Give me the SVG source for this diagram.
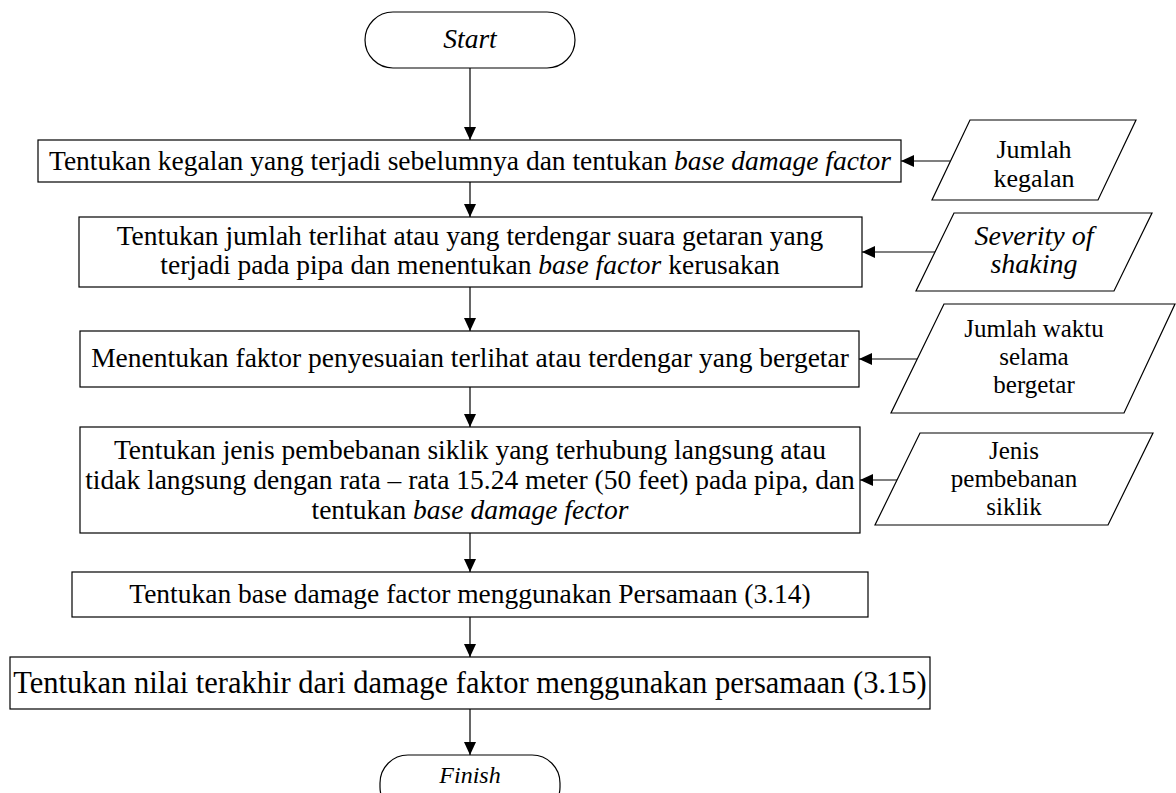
<svg xmlns="http://www.w3.org/2000/svg" width="1176" height="793" viewBox="0 0 1176 793">
<defs>
<style>
.s{fill:#fff;stroke:#000;stroke-width:1.2}
.t{font-family:"Liberation Serif","Times New Roman",serif;font-size:27.5px;fill:#000;text-anchor:middle}
.p{font-family:"Liberation Serif","Times New Roman",serif;font-size:25px;fill:#000;text-anchor:middle}
.i{font-style:italic}
.c{fill:none;stroke:#000;stroke-width:1.2}
</style>
<marker id="ah" markerUnits="userSpaceOnUse" markerWidth="14" markerHeight="12" refX="13" refY="6" orient="auto">
<path d="M0,0 L13,6 L0,12 z" fill="#000"/>
</marker>
</defs>
<rect width="1176" height="793" fill="#fff"/>
<g id="connectors">
<line class="c" x1="470" y1="68" x2="470" y2="140" marker-end="url(#ah)"/>
<line class="c" x1="470" y1="182" x2="470" y2="217" marker-end="url(#ah)"/>
<line class="c" x1="470" y1="287" x2="470" y2="331" marker-end="url(#ah)"/>
<line class="c" x1="470" y1="387" x2="470" y2="427" marker-end="url(#ah)"/>
<line class="c" x1="470" y1="533" x2="470" y2="572" marker-end="url(#ah)"/>
<line class="c" x1="470" y1="617" x2="470" y2="657" marker-end="url(#ah)"/>
<line class="c" x1="470" y1="709" x2="470" y2="755" marker-end="url(#ah)"/>
<line class="c" x1="950" y1="161" x2="901" y2="161" marker-end="url(#ah)"/>
<line class="c" x1="935" y1="252" x2="862" y2="252" marker-end="url(#ah)"/>
<line class="c" x1="917" y1="359" x2="859" y2="359" marker-end="url(#ah)"/>
<line class="c" x1="897" y1="480" x2="860" y2="480" marker-end="url(#ah)"/>
</g>
<g id="start">
<rect class="s" x="365" y="12" width="210" height="56" rx="28"/>
<text class="t i" x="470" y="48">Start</text>
</g>
<g id="box1">
<rect class="s" x="38" y="140" width="863" height="42"/>
<text class="t" x="470" y="170">Tentukan kegalan yang terjadi sebelumnya dan tentukan <tspan class="i">base damage factor</tspan></text>
</g>
<g id="in1">
<polygon class="s" points="970,120 1136,120 1098,200 932,200"/>
<text class="p" x="1034" y="158" style="font-size:26px">Jumlah</text>
<text class="p" x="1034" y="187" style="font-size:26px">kegalan</text>
</g>
<g id="box2">
<rect class="s" x="79" y="217" width="783" height="70"/>
<text class="t" x="470" y="245">Tentukan jumlah terlihat atau yang terdengar suara getaran yang</text>
<text class="t" x="470" y="274">terjadi pada pipa dan menentukan <tspan class="i">base factor</tspan> kerusakan</text>
</g>
<g id="in2">
<polygon class="s" points="954,213 1152,213 1114,291 916,291"/>
<text class="p i" x="1034" y="245" style="font-size:28px">Severity of</text>
<text class="p i" x="1034" y="273" style="font-size:28px">shaking</text>
</g>
<g id="box3">
<rect class="s" x="80" y="331" width="779" height="56"/>
<text class="t" x="470" y="367">Menentukan faktor penyesuaian terlihat atau terdengar yang bergetar</text>
</g>
<g id="in3">
<polygon class="s" points="944,304 1175,304 1124,413 891,413"/>
<text class="p" x="1034" y="337">Jumlah waktu</text>
<text class="p" x="1034" y="365">selama</text>
<text class="p" x="1034" y="393">bergetar</text>
</g>
<g id="box4">
<rect class="s" x="80" y="427" width="780" height="106"/>
<text class="t" x="470" y="459">Tentukan jenis pembebanan siklik yang terhubung langsung atau</text>
<text class="t" x="470" y="489">tidak langsung dengan rata – rata 15.24 meter (50 feet) pada pipa, dan</text>
<text class="t" x="470" y="519">tentukan <tspan class="i">base damage fector</tspan></text>
</g>
<g id="in4">
<polygon class="s" points="920,433 1153,433 1108,525 875,525"/>
<text class="p" x="1014" y="459">Jenis</text>
<text class="p" x="1014" y="487">pembebanan</text>
<text class="p" x="1014" y="515">siklik</text>
</g>
<g id="box5">
<rect class="s" x="72" y="572" width="796" height="45"/>
<text class="t" x="470" y="603">Tentukan base damage factor menggunakan Persamaan (3.14)</text>
</g>
<g id="box6">
<rect class="s" x="10" y="657" width="920" height="52"/>
<text class="t" x="470" y="693" style="font-size:30.5px">Tentukan nilai terakhir dari damage faktor menggunakan persamaan (3.15)</text>
</g>
<g id="finish">
<rect class="s" x="380" y="755" width="180" height="60" rx="28"/>
<text class="t i" x="470" y="783" style="font-size:24px">Finish</text>
</g>
</svg>
